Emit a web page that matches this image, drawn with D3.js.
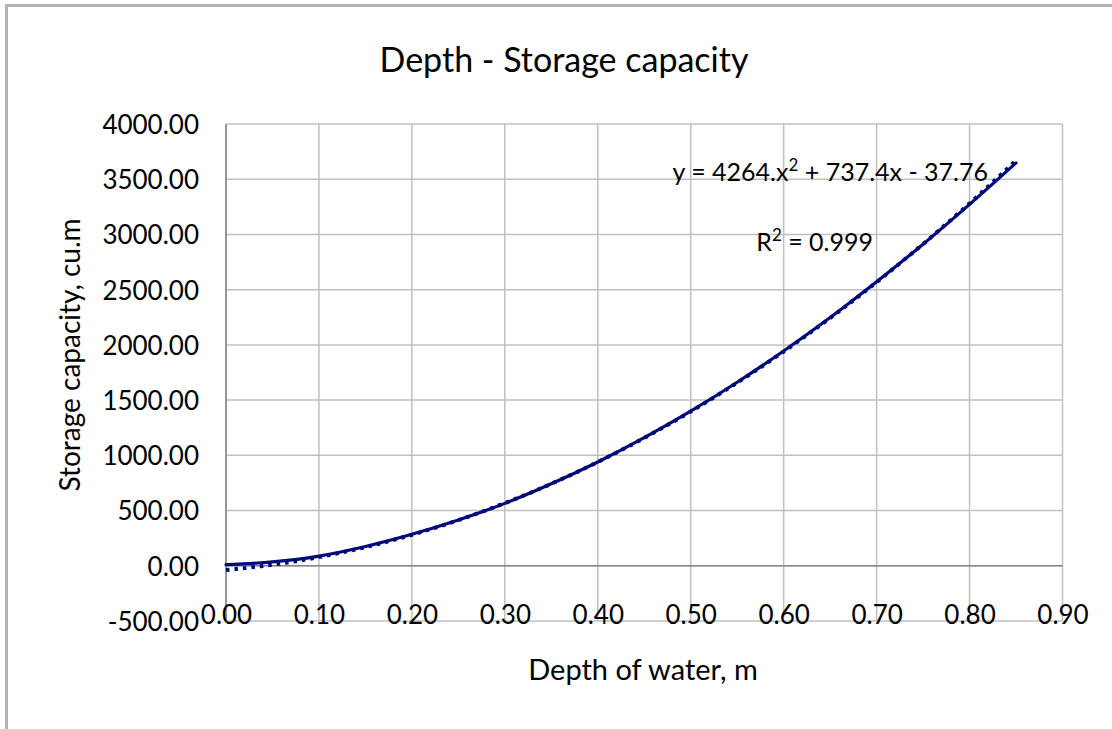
<!DOCTYPE html>
<html>
<head>
<meta charset="utf-8">
<script src="https://cdn.jsdelivr.net/npm/d3@7/dist/d3.min.js"></script>
<style>
html,body{margin:0;padding:0;background:#fff;}
svg{display:block;}
text{font-family:Lato,"Open Sans",sans-serif;fill:#000;}
</style>
</head>
<body>
<svg id="chart" width="1112" height="729"></svg>
<script>
// ---- data ----
const depths = [0.00,0.05,0.10,0.15,0.20,0.25,0.30,0.35,0.40,0.45,0.50,0.55,0.60,0.65,0.70,0.75,0.80,0.85];
const storage = [10,35,88,175,285,415,565,742,940,1160,1400,1662,1945,2248,2572,2912,3272,3648];
const trendCoeffs = [4264, 737.4, -37.76]; // a, b, c of y = a x^2 + b x + c (shown on chart)
const xTicks = [0,0.1,0.2,0.3,0.4,0.5,0.6,0.7,0.8,0.9];
const yTicks = [-500,0,500,1000,1500,2000,2500,3000,3500,4000];
const titleText = "Depth - Storage capacity";
const xTitle = "Depth of water, m";
const yTitle = "Storage capacity, cu.m";
const eqParts = ["y = 4264.x", "2", " + 737.4x - 37.76"];
const r2Parts = ["R", "2", " = 0.999"];

const svg = d3.select("#chart");
const plot = {left:226, right:1062.5, top:124, bottom:621};
const fmt = v => d3.format(".2f")(v).replace("−","-");

// outer chart border (left & top visible)
svg.append("rect").attr("x",6.5).attr("y",5.5).attr("width",1200).attr("height",800)
  .attr("fill","none").attr("stroke","#b3b3b3").attr("stroke-width",3);

const x = d3.scaleLinear().domain([0,0.9]).range([plot.left, plot.right]);
const y = d3.scaleLinear().domain([-500,4000]).range([plot.bottom, plot.top]);

// gridlines
const g = svg.append("g");
g.selectAll("line.v").data(xTicks).enter().append("line")
  .attr("x1",d=>x(d)).attr("x2",d=>x(d)).attr("y1",plot.top).attr("y2",plot.bottom)
  .attr("stroke","#c0c0c0").attr("stroke-width",1.5);
g.selectAll("line.h").data(yTicks).enter().append("line")
  .attr("x1",plot.left).attr("x2",plot.right).attr("y1",d=>y(d)).attr("y2",d=>y(d))
  .attr("stroke","#c0c0c0").attr("stroke-width",1.5);

// axes lines
g.append("line").attr("x1",plot.left).attr("x2",plot.right).attr("y1",y(0)).attr("y2",y(0))
  .attr("stroke","#858585").attr("stroke-width",1.5);
g.append("line").attr("x1",plot.left).attr("x2",plot.left).attr("y1",plot.top).attr("y2",plot.bottom)
  .attr("stroke","#858585").attr("stroke-width",1.5);

// y tick labels
const yAxis = d3.axisLeft(y).tickValues(yTicks).tickFormat(fmt).tickSize(0).tickPadding(0);
const ya = svg.append("g").attr("transform",`translate(199,0)`).call(yAxis);
ya.select(".domain").remove();
ya.selectAll("text").attr("font-size",26).attr("font-family","Lato").attr("fill","#000").attr("dy","0.36em");

// x tick labels
const xAxis = d3.axisBottom(x).tickValues(xTicks).tickFormat(fmt).tickSize(0).tickPadding(0);
const xa = svg.append("g").attr("transform",`translate(0,606)`).call(xAxis);
xa.select(".domain").remove();
xa.selectAll("text").attr("font-size",26).attr("font-family","Lato").attr("fill","#000").attr("dy","0.71em");

// trendline (dotted) from displayed equation
const trendX = d3.range(0, 0.8501, 0.005);
const trendPts = trendX.map(v => [v, trendCoeffs[0]*v*v + trendCoeffs[1]*v + trendCoeffs[2]]);
const lineGen = d3.line().x(d=>x(d[0])).y(d=>y(d[1]));
svg.append("path").datum(trendPts).attr("d",lineGen)
  .attr("fill","none").attr("stroke","#000a78").attr("stroke-width",4)
  .attr("stroke-dasharray","3.5,5");

// data series (solid)
const dataPts = depths.map((d,i)=>[d, storage[i]]);
svg.append("path").datum(dataPts).attr("d", d3.line().x(d=>x(d[0])).y(d=>y(d[1])).curve(d3.curveMonotoneX))
  .attr("fill","none").attr("stroke","#000a78").attr("stroke-width",3.2)
  .attr("stroke-linecap","round");

// title
svg.append("text").attr("x",564).attr("y",72).attr("text-anchor","middle")
  .attr("font-size",34).text(titleText);

// axis titles
svg.append("text").attr("x",643).attr("y",680).attr("text-anchor","middle")
  .attr("font-size",29).text(xTitle);
svg.append("text").attr("transform","translate(80,355) rotate(-90)").attr("text-anchor","middle")
  .attr("font-size",28).text(yTitle);

// equation and R^2 with superscripts
function supText(parts, xr, yb){
  const t = svg.append("text").attr("x",xr).attr("y",yb).attr("text-anchor","end").attr("font-size",25);
  t.append("tspan").text(parts[0]);
  t.append("tspan").attr("font-size",17).attr("dy",-10).text(parts[1]);
  t.append("tspan").attr("dy",10).text(parts[2]);
}
supText(eqParts, 988, 181);
supText(r2Parts, 873, 251);
</script>
</body>
</html>
